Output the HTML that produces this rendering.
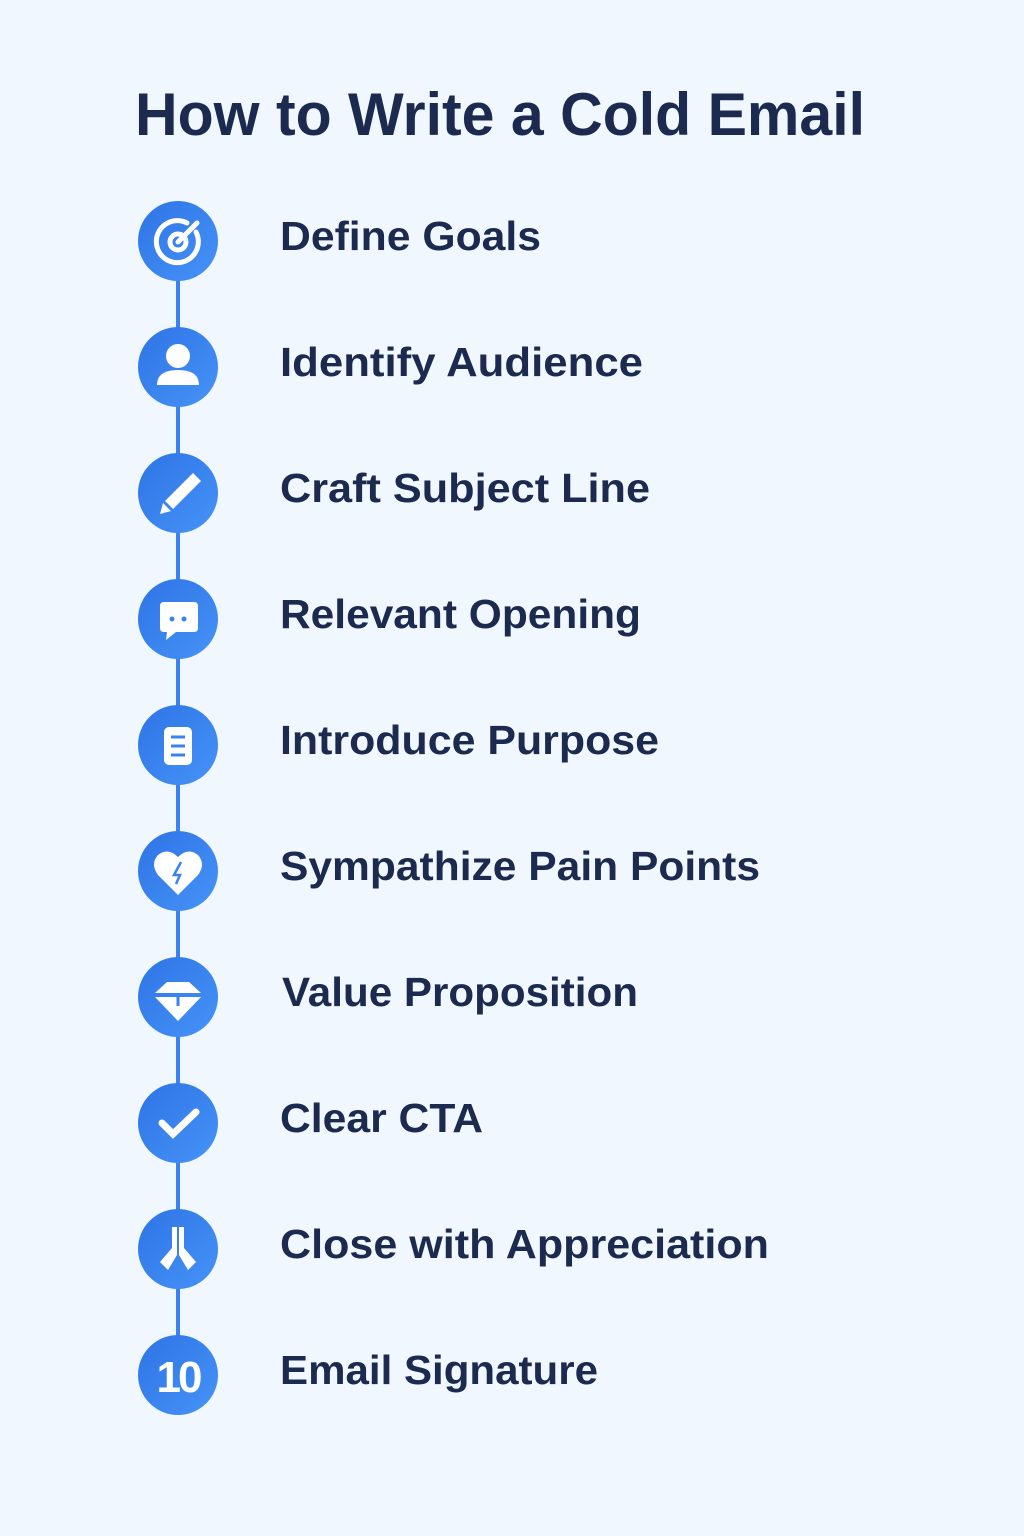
<!DOCTYPE html>
<html><head><meta charset="utf-8"><style>
html,body{margin:0;padding:0;background:#f0f7fe;}
svg{display:block}
text{font-family:"Liberation Sans",sans-serif;fill:#1b2a4e;}
</style></head><body>
<svg width="1024" height="1536" viewBox="0 0 1024 1536" xmlns="http://www.w3.org/2000/svg">
<defs><linearGradient id="g" x1="0" y1="0" x2="1" y2="1"><stop offset="0" stop-color="#2f74e6"/><stop offset="1" stop-color="#4593f7"/></linearGradient></defs>
<rect width="1024" height="1536" fill="#f0f7fe"/>
<text x="135" y="135" font-size="60" font-weight="bold" textLength="730" lengthAdjust="spacingAndGlyphs">How to Write a Cold Email</text>
<line x1="178" y1="241" x2="178" y2="1375" stroke="#3a82f0" stroke-width="4"/>
<g fill="url(#g)">
<circle cx="178" cy="241" r="40"/><circle cx="178" cy="367" r="40"/><circle cx="178" cy="493" r="40"/><circle cx="178" cy="619" r="40"/><circle cx="178" cy="745" r="40"/><circle cx="178" cy="871" r="40"/><circle cx="178" cy="997" r="40"/><circle cx="178" cy="1123" r="40"/><circle cx="178" cy="1249" r="40"/><circle cx="178" cy="1375" r="40"/>
</g>
<g fill="none" stroke="#fff" stroke-width="5" stroke-linecap="round">
<path d="M196 232 A21 21 0 1 1 187 223"/>
<circle cx="178" cy="242" r="8"/>
<line x1="178" y1="242" x2="197" y2="223"/>
<path d="M162 1123 L173 1134 L196 1112" stroke-width="7"/>
</g>
<g fill="#fff">
<circle cx="178" cy="356" r="12"/>
<path d="M157 385 Q157 370 178 370 Q199 370 199 385 Z"/>
<path d="M193 473 L201 481 L173 509 L165 501 Z"/>
<path d="M163 503 L171 511 L160 514 Z"/>
<path d="M160 606 Q160 602 164 602 L194 602 Q198 602 198 606 L198 628 Q198 632 194 632 L176 632 L166 640 L167 632 L164 632 Q160 632 160 628 Z"/>
<rect x="164" y="727" width="28" height="38" rx="5"/>
<path d="M178 895 L158 875 Q150 864 158 855 Q168 847 178 857 Q188 847 198 855 Q206 864 198 875 Z"/>
<path d="M167 982 L189 982 L201 993 L155 993 Z"/>
<path d="M155 997 L201 997 L178 1021 Z"/>
<path d="M172 1227 L177 1227 L177 1255 L168 1270 L160 1262 L172 1248 Z"/>
<path d="M184 1227 L179 1227 L179 1255 L188 1270 L196 1262 L184 1248 Z"/>
</g>
<g stroke="#3a82f0" stroke-width="3" fill="none">
<line x1="171" y1="737" x2="185" y2="737"/><line x1="171" y1="746" x2="185" y2="746"/><line x1="171" y1="755" x2="185" y2="755"/>
<line x1="178" y1="996" x2="178" y2="1006"/>
</g>
<circle cx="172" cy="619" r="2.5" fill="#3a82f0"/><circle cx="184" cy="619" r="2.5" fill="#3a82f0"/>
<path d="M181 862 L174 875 L180 875 L176 884" stroke="#3a82f0" stroke-width="2.5" fill="none"/>
<text x="178" y="1392" font-size="44" font-weight="bold" text-anchor="middle" style="fill:#fff" letter-spacing="-3">10</text>
<g font-size="41" font-weight="bold">
<text x="280" y="250" textLength="261" lengthAdjust="spacingAndGlyphs">Define Goals</text>
<text x="280" y="376" textLength="363" lengthAdjust="spacingAndGlyphs">Identify Audience</text>
<text x="280" y="502" textLength="370" lengthAdjust="spacingAndGlyphs">Craft Subject Line</text>
<text x="280" y="628" textLength="361" lengthAdjust="spacingAndGlyphs">Relevant Opening</text>
<text x="280" y="754" textLength="379" lengthAdjust="spacingAndGlyphs">Introduce Purpose</text>
<text x="280" y="880" textLength="480" lengthAdjust="spacingAndGlyphs">Sympathize Pain Points</text>
<text x="282" y="1006" textLength="356" lengthAdjust="spacingAndGlyphs">Value Proposition</text>
<text x="280" y="1132" textLength="203" lengthAdjust="spacingAndGlyphs">Clear CTA</text>
<text x="280" y="1258" textLength="489" lengthAdjust="spacingAndGlyphs">Close with Appreciation</text>
<text x="280" y="1384" textLength="318" lengthAdjust="spacingAndGlyphs">Email Signature</text>
</g>
</svg>
</body></html>
